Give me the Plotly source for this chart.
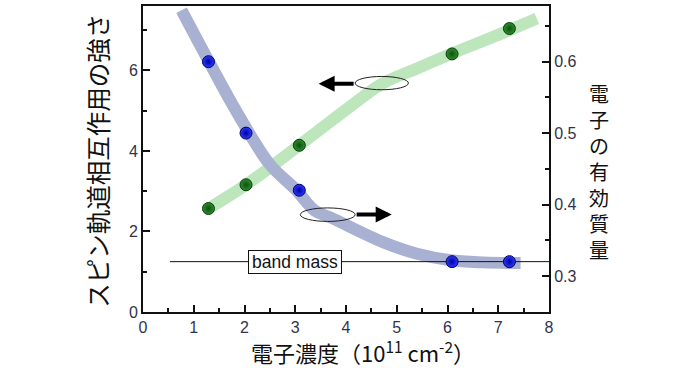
import plotly.graph_objects as go

# ---- data ----
density = [1.29, 2.03, 3.08, 6.09, 7.22]              # electron density (1e11 cm^-2)
soi_strength = [2.57, 3.16, 4.14, 6.41, 7.04]         # left axis (green)
eff_mass = [0.60, 0.50, 0.42, 0.32, 0.32]             # right axis (blue)

green_curve_x = [1.29, 2.03, 3.08, 4.08, 4.71, 5.40, 6.09, 6.70, 7.22, 7.76]
green_curve_y = [2.57, 3.16, 4.14, 5.10, 5.67, 6.05, 6.42, 6.73, 7.00, 7.29]

blue_curve_x = [0.76, 1.30, 1.86, 2.50, 3.01, 3.39, 3.69, 4.74, 5.40, 6.06, 6.70, 7.44]
blue_curve_y = [0.672, 0.600, 0.528, 0.456, 0.421, 0.391, 0.382, 0.347, 0.331, 0.322, 0.319, 0.318]

band_mass_x = [0.53, 8.0]
band_mass_y = [0.32, 0.32]

x_ticks = [0, 1, 2, 3, 4, 5, 6, 7, 8]
y_left_ticks = [0, 2, 4, 6]
y_right_ticks = [0.3, 0.4, 0.5, 0.6]

right_title = "電子の有効質量"

CJK = "Noto Sans CJK JP"
LAT = "Liberation Sans, Arial, sans-serif"
TICKCOL = "#33334a"

fig = go.Figure()

fig.add_trace(go.Scatter(x=green_curve_x, y=green_curve_y, mode="lines",
                         line=dict(color="#bde6bd", width=12, shape="spline", smoothing=1.0),
                         hoverinfo="skip", showlegend=False))
fig.add_trace(go.Scatter(x=blue_curve_x, y=blue_curve_y, mode="lines", yaxis="y2",
                         line=dict(color="#a9b1d3", width=12, shape="spline", smoothing=1.0),
                         hoverinfo="skip", showlegend=False))
fig.add_trace(go.Scatter(x=band_mass_x, y=band_mass_y, mode="lines", yaxis="y2",
                         line=dict(color="#111111", width=1), hoverinfo="skip", showlegend=False))
fig.add_trace(go.Scatter(x=density, y=soi_strength, mode="markers",
                         marker=dict(size=12, color="#2c8f2c",
                                     gradient=dict(type="radial", color="#0f500f"),
                                     line=dict(color="#0a3a0a", width=1)),
                         showlegend=False))
fig.add_trace(go.Scatter(x=density, y=eff_mass, mode="markers", yaxis="y2",
                         marker=dict(size=12, color="#2a3aff",
                                     gradient=dict(type="radial", color="#0000a0"),
                                     line=dict(color="#000060", width=1)),
                         showlegend=False))

axis_common = dict(showline=True, linecolor="#111111", linewidth=2, ticks="inside",
                   tickcolor="#111111", tickwidth=1.5, ticklen=7, showgrid=False,
                   zeroline=False, tickfont=dict(family=LAT, size=16, color=TICKCOL))
minor_common = dict(ticks="inside", ticklen=4, tickcolor="#111111", tickwidth=1.5)

fig.update_layout(
    width=700, height=368,
    margin=dict(l=143, r=151, t=4, b=56),
    paper_bgcolor="white", plot_bgcolor="white",
    xaxis=dict(range=[0, 8], tickvals=x_ticks, mirror=True,
               minor=dict(dtick=0.5, **minor_common), **axis_common),
    yaxis=dict(range=[0, 7.6], tickvals=y_left_ticks,
               minor=dict(tickvals=[1, 3, 5, 7], **minor_common), **axis_common),
    yaxis2=dict(range=[0.2495, 0.678], tickvals=y_right_ticks, overlaying="y", side="right",
                tickformat=".1f",
                minor=dict(tickvals=[0.35, 0.45, 0.55, 0.65], **minor_common), **axis_common),
    showlegend=False,
)

# ellipses marking the curves
fig.add_shape(type="circle", xref="x", yref="y", x0=4.18, x1=5.23, y0=5.52, y1=5.85,
              line=dict(color="#222222", width=1))
fig.add_shape(type="circle", xref="x", yref="y", x0=3.10, x1=4.18, y0=2.25, y1=2.585,
              line=dict(color="#222222", width=1))

# arrows
fig.add_annotation(x=3.46, y=5.67, ax=4.18, ay=5.67, xref="x", yref="y", axref="x", ayref="y",
                   text="", showarrow=True, arrowhead=2, arrowsize=0.8, arrowwidth=4, arrowcolor="#000000")
fig.add_annotation(x=4.90, y=2.42, ax=4.18, ay=2.42, xref="x", yref="y", axref="x", ayref="y",
                   text="", showarrow=True, arrowhead=2, arrowsize=0.8, arrowwidth=4, arrowcolor="#000000")

# band mass label
fig.add_annotation(x=2.99, y=0.32, xref="x", yref="y2", text="band mass", showarrow=False,
                   font=dict(family=LAT, size=17.5, color="#111111"),
                   width=90, height=20, borderpad=1,
                   bgcolor="white", bordercolor="#111111", borderwidth=1)

# axis titles
fig.add_annotation(x=-0.111, y=0.494, xref="paper", yref="paper", text="スピン軌道相互作用の強さ",
                   xanchor="center", yanchor="middle",
                   textangle=-90, showarrow=False, font=dict(family=CJK, size=24.5, color="#111111"))
fig.add_annotation(x=1.123, y=0.458, xref="paper", yref="paper",
                   text="<br>".join(list(right_title)),
                   xanchor="center", yanchor="middle", showarrow=False,
                   font=dict(family=CJK, size=20, color="#111111"))
fig.add_annotation(x=0.542, y=-0.1299, xref="paper", yref="paper",
                   text="電子濃度（10<sup>11</sup> cm<sup>-2</sup>）",
                   xanchor="center", yanchor="middle",
                   showarrow=False, font=dict(family=CJK, size=22, color="#111111"))

fig.write_html("out.html", config={"displayModeBar": False},
               post_script="document.body.style.margin='0px';")
